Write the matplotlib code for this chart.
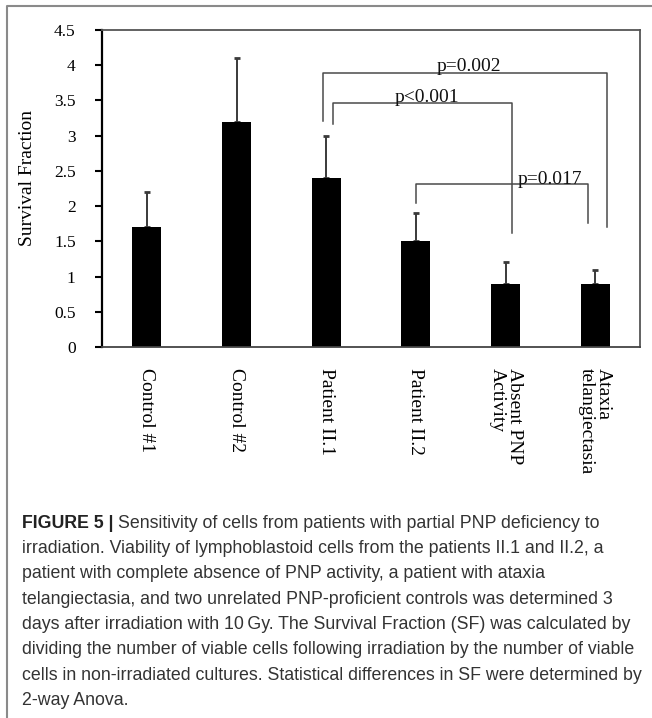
import matplotlib
matplotlib.use("Agg")
import matplotlib.pyplot as plt
from matplotlib.lines import Line2D

# ---- data ----
categories = ["Control #1", "Control #2", "Patient II.1", "Patient II.2",
              "Absent PNP\nActivity", "Ataxia\ntelangiectasia"]
survival = [1.7, 3.2, 2.4, 1.5, 0.9, 0.9]
errors = [0.5, 0.9, 0.6, 0.4, 0.3, 0.2]
yticks = [0, 0.5, 1, 1.5, 2, 2.5, 3, 3.5, 4, 4.5]
ytick_labels = ["0", "0.5", "1", "1.5", "2", "2.5", "3", "3.5", "4", "4.5"]

# significance brackets
bracket_labels = ["p=0.002", "p<0.001", "p=0.017"]
bracket_xl = [1.97, 2.08, 3.00]
bracket_xr = [5.13, 4.07, 4.92]
bracket_lb = [3.21, 3.17, 2.05]
bracket_top = [3.89, 3.46, 2.31]
bracket_rb = [1.71, 1.62, 1.76]
label_x = [3.59, 3.12, 4.50]
label_y = [3.925, 3.48, 2.32]

caption_bold = "FIGURE 5 | "
caption_lines = [
    "Sensitivity of cells from patients with partial PNP deficiency to",
    "irradiation. Viability of lymphoblastoid cells from the patients II.1 and II.2, a",
    "patient with complete absence of PNP activity, a patient with ataxia",
    "telangiectasia, and two unrelated PNP-proficient controls was determined 3",
    "days after irradiation with 10\u2009Gy. The Survival Fraction (SF) was calculated by",
    "dividing the number of viable cells following irradiation by the number of viable",
    "cells in non-irradiated cultures. Statistical differences in SF were determined by",
    "2-way Anova.",
]

W, H = 652, 718
fig = plt.figure(figsize=(W / 100, H / 100), dpi=100)
fig.patch.set_facecolor("white")

serif = ["Liberation Serif", "DejaVu Serif"]
sans = ["Liberation Sans", "DejaVu Sans"]

ax_l, ax_r, ax_t, ax_b = 102, 640, 30, 347
ax = fig.add_axes([ax_l / W, 1 - ax_b / H, (ax_r - ax_l) / W, (ax_b - ax_t) / H])

x = list(range(len(categories)))
ax.errorbar(x, survival, yerr=[[0] * len(errors), errors], fmt="none",
            ecolor="#3a3a3a", elinewidth=1.4, capsize=2.5, capthick=2, zorder=1)
ax.bar(x, survival, width=0.32, color="black", zorder=2)

ax.set_xlim(-0.5, 5.5)
ax.set_ylim(0, 4.5)
ax.set_yticks(yticks)
ax.set_yticklabels(ytick_labels, fontfamily=serif, fontsize=12.5)
ax.set_xticks(x)
ax.set_xticklabels(categories, fontfamily=serif, fontsize=14, rotation=270,
                   ha="center", va="top", linespacing=1.0, multialignment="left")
ax.tick_params(axis="x", length=0, pad=15)
ax.tick_params(axis="y", direction="out", length=5, width=1.5, pad=14, color="black")

for side in ["top", "right"]:
    ax.spines[side].set_color("#555555")
    ax.spines[side].set_linewidth(1.3)
ax.spines["left"].set_color("black")
ax.spines["left"].set_linewidth(1.6)
ax.spines["bottom"].set_color("#444444")
ax.spines["bottom"].set_linewidth(1.3)

for lab, xl, xr, lb, tp, rb, lx, ly in zip(bracket_labels, bracket_xl, bracket_xr,
                                           bracket_lb, bracket_top, bracket_rb,
                                           label_x, label_y):
    ax.plot([xl, xl, xr, xr], [lb, tp, tp, rb], color="#4a4a4a", lw=1.1, zorder=3)
    ax.text(lx, ly, lab, ha="center", va="baseline", fontfamily=serif,
            fontsize=14, color="#111111", zorder=4)

fig.text(28 / W, 1 - 178 / H, "Survival Fraction", rotation=90, ha="center",
         va="center", fontfamily=serif, fontsize=14)

# outer frame (left and top lines)
fig.add_artist(Line2D([7 / W, 7 / W, 1.0], [0.0, 1 - 6 / H, 1 - 6 / H],
                      transform=fig.transFigure, color="#8a8a8a", lw=1.5))

# caption
cap_x = 22 / W
y0 = 523
dy = 25.4
fs = 12.8
renderer = fig.canvas.get_renderer()
tb = fig.text(cap_x, 1 - y0 / H, caption_bold, fontfamily=sans, fontweight="bold",
              fontsize=fs, color="#222222", va="center", ha="left")
bb = tb.get_window_extent(renderer=renderer)
fig.text(bb.x1 / W, 1 - y0 / H, caption_lines[0], fontfamily=sans, fontsize=fs,
         color="#333333", va="center", ha="left")
for i, line in enumerate(caption_lines[1:], start=1):
    fig.text(cap_x, 1 - (y0 + i * dy) / H, line, fontfamily=sans, fontsize=fs,
             color="#333333", va="center", ha="left")

fig.savefig("out.png", dpi=100)
